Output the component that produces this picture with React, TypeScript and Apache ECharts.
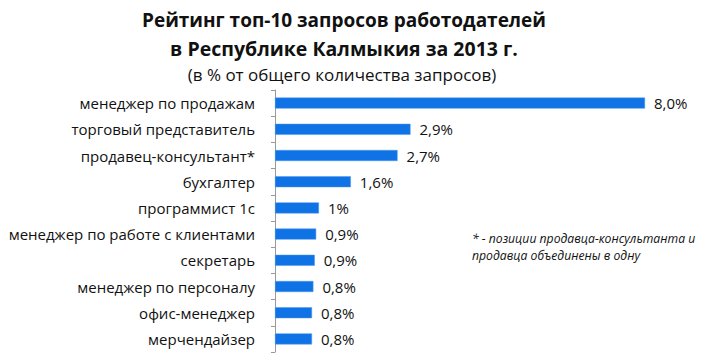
import React, { useEffect, useRef } from "react";
import * as echarts from "echarts";

const categories = [
  "менеджер по продажам",
  "торговый представитель",
  "продавец-консультант*",
  "бухгалтер",
  "программист 1с",
  "менеджер по работе с клиентами",
  "секретарь",
  "менеджер по персоналу",
  "офис-менеджер",
  "мерчендайзер",
];
const values = [8.0, 2.93, 2.65, 1.64, 0.95, 0.89, 0.86, 0.83, 0.8, 0.8];
const valueLabels = ["8,0%", "2,9%", "2,7%", "1,6%", "1%", "0,9%", "0,9%", "0,8%", "0,8%", "0,8%"];
const titleLines = [
  "Рейтинг топ-10 запросов работодателей",
  "в Республике Калмыкия за 2013 г.",
];
const subtitle = "(в % от общего количества запросов)";
const footnote = ["* - позиции продавца-консультанта и", "продавца объединены в одну"];

export default function App() {
  const ref = useRef<HTMLDivElement>(null);
  useEffect(() => {
    if (!ref.current) return;
    const chart = echarts.init(ref.current, null, { renderer: "svg" });
    const font = "'Open Sans', 'Noto Sans', sans-serif";
    chart.setOption({
      animation: false,
      backgroundColor: "#ffffff",
      textStyle: { fontFamily: font },
      grid: { left: 275, top: 90, width: 370, height: 262, containLabel: false },
      xAxis: { type: "value", min: 0, max: 8, show: false },
      yAxis: {
        type: "category",
        data: categories,
        inverse: true,
        axisLine: { show: true, lineStyle: { color: "#9a9a9a", width: 1 } },
        axisTick: { show: true, length: 4, lineStyle: { color: "#9a9a9a" } },
        axisLabel: { margin: 20, color: "#111", fontSize: 15, fontFamily: font },
        splitLine: { show: false },
      },
      series: [
        {
          type: "bar",
          data: values,
          barWidth: 11,
          itemStyle: { color: "#0f72e5", borderColor: "#4d98ee", borderWidth: 0.5 },
          label: {
            show: true,
            position: "right",
            distance: 9,
            color: "#111",
            fontSize: 15,
            fontFamily: font,
            formatter: (p: any) => valueLabels[p.dataIndex],
          },
        },
      ],
      graphic: [
        {
          type: "text",
          x: 344,
          y: 20,
          style: {
            text: titleLines[0],
            fill: "#111",
            font: `bold 19px ${font}`,
            textAlign: "center",
            textVerticalAlign: "middle",
          },
        },
        {
          type: "text",
          x: 344,
          y: 48,
          style: {
            text: titleLines[1],
            fill: "#111",
            font: `bold 19.5px ${font}`,
            textAlign: "center",
            textVerticalAlign: "middle",
          },
        },
        {
          type: "text",
          x: 342,
          y: 74,
          style: {
            text: subtitle,
            fill: "#111",
            font: `17px ${font}`,
            textAlign: "center",
            textVerticalAlign: "middle",
          },
        },
        {
          type: "text",
          x: 472,
          y: 238,
          style: {
            text: footnote[0],
            fill: "#111",
            font: `italic 12.2px ${font}`,
            textAlign: "left",
            textVerticalAlign: "middle",
          },
        },
        {
          type: "text",
          x: 472,
          y: 255,
          style: {
            text: footnote[1],
            fill: "#111",
            font: `italic 12.2px ${font}`,
            textAlign: "left",
            textVerticalAlign: "middle",
          },
        },
      ],
    });
    return () => chart.dispose();
  }, []);
  return (
    <div
      ref={ref}
      style={{ position: "absolute", left: 0, top: 0, width: 718, height: 364 }}
    />
  );
}
